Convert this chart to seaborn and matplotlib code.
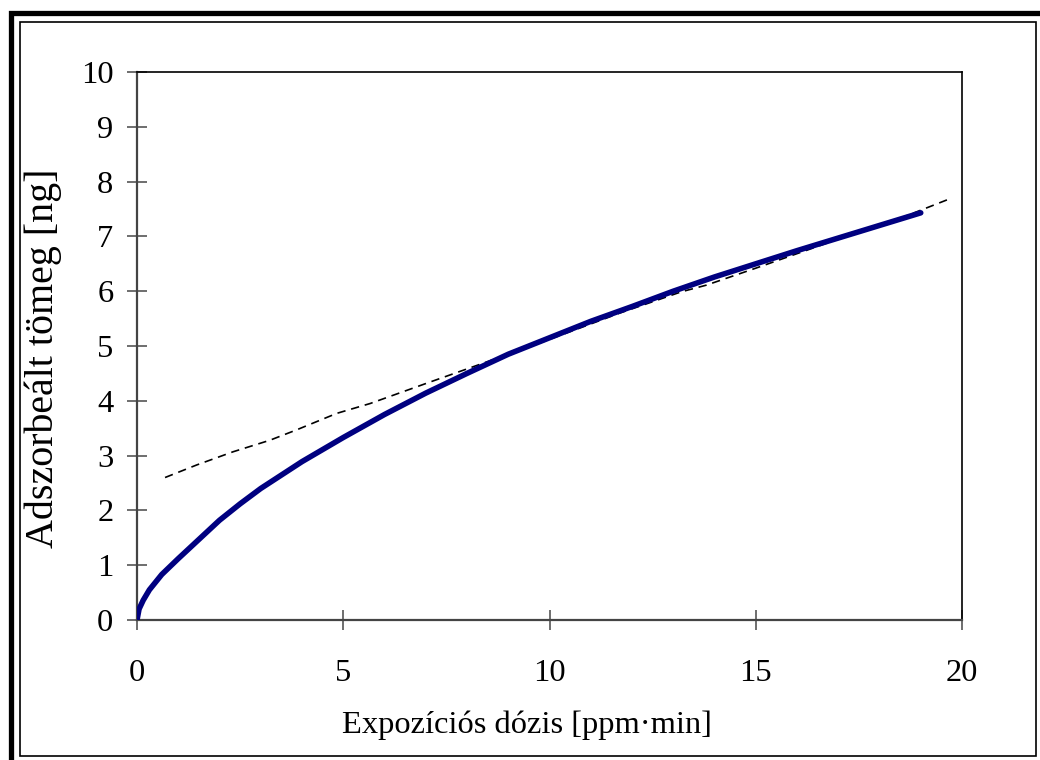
import matplotlib
matplotlib.use("Agg")
import matplotlib.pyplot as plt
import matplotlib.patches as mpatches
import seaborn as sns
import pandas as pd

# Measured curve (solid, navy)
dose = [0, 0.05, 0.15, 0.3, 0.6, 1, 1.5, 2, 2.5, 3, 4, 5, 6, 7, 8, 9, 10, 11, 12, 13, 14, 15, 16, 17, 18, 19]
mass = [0, 0.2, 0.36, 0.55, 0.83, 1.12, 1.47, 1.82, 2.12, 2.40, 2.89, 3.33, 3.75, 4.14, 4.50, 4.85, 5.15, 5.45,
        5.72, 6.00, 6.26, 6.50, 6.74, 6.97, 7.20, 7.43]

# Fitted / reference curve (dashed, black)
fit_dose = [0.68, 1.45, 2.33, 3.22, 3.87, 4.84, 5.65, 7.02, 8.48, 10.0, 11.7, 13.2, 13.8, 15.0, 17.0, 18.5, 19.75]
fit_mass = [2.60, 2.83, 3.07, 3.28, 3.47, 3.77, 3.95, 4.32, 4.71, 5.12, 5.60, 5.99, 6.11, 6.42, 6.95, 7.33, 7.70]

x_ticks = [0, 5, 10, 15, 20]
y_ticks = [0, 1, 2, 3, 4, 5, 6, 7, 8, 9, 10]
x_label = "Expozíciós dózis [ppm·min]"
y_label = "Adszorbeált tömeg [ng]"

sns.set_style("white")
plt.rcParams['font.family'] = ['Liberation Serif', 'DejaVu Serif']
plt.rcParams['text.color'] = 'black'
plt.rcParams['axes.labelcolor'] = 'black'
plt.rcParams['xtick.color'] = 'black'
plt.rcParams['ytick.color'] = 'black'

W, H = 1040, 760
fig = plt.figure(figsize=(W / 100, H / 100), dpi=100)
ax = fig.add_axes([137 / W, 1 - 620 / H, (962 - 137) / W, (620 - 72) / H])

df_meas = pd.DataFrame({"dose": dose, "mass": mass})
df_fit = pd.DataFrame({"dose": fit_dose, "mass": fit_mass})

sns.lineplot(data=df_fit, x="dose", y="mass", ax=ax, color="black", lw=1.2,
             linestyle=(0, (5, 3.5)), sort=False, zorder=2)
sns.lineplot(data=df_meas, x="dose", y="mass", ax=ax, color="#000080", lw=4.0,
             sort=False, zorder=3, solid_capstyle="round")

ax.set_xlim(0, 20)
ax.set_ylim(0, 10)
ax.set_xticks(x_ticks)
ax.set_yticks(y_ticks)
ax.set_xlabel(x_label, fontsize=23.4, color="black")
ax.set_ylabel(y_label, fontsize=28.8, color="black")
ax.xaxis.set_label_coords(0.473, -0.165)
ax.yaxis.set_label_coords(-0.091, 0.477)
ax.tick_params(axis="both", which="major", direction="inout", length=14,
               width=1.2, color="#555555", labelsize=23.4, labelcolor="black",
               bottom=True, left=True, top=False, right=False)
ax.tick_params(axis="y", pad=10)
ax.tick_params(axis="x", pad=21)
for s in ["left", "bottom"]:
    ax.spines[s].set_color("#444444")
    ax.spines[s].set_linewidth(1.6)
for s in ["top", "right"]:
    ax.spines[s].set_color("black")
    ax.spines[s].set_linewidth(1.2)
ax.spines["top"].set_visible(True)
ax.spines["right"].set_visible(True)

# Figure frames (outer thick, inner thin)
def px_rect(x0, y0, x1, y1, lw):
    return mpatches.Rectangle((x0 / W, 1 - y1 / H), (x1 - x0) / W, (y1 - y0) / H,
                              transform=fig.transFigure, fill=False,
                              edgecolor="black", linewidth=lw, clip_on=False)

fig.patches.append(px_rect(10.5, 12.5, 1060, 780, 3.8))
fig.patches.append(px_rect(20, 22, 1035.5, 755.5, 1.2))

fig.savefig("out.png", dpi=100)
